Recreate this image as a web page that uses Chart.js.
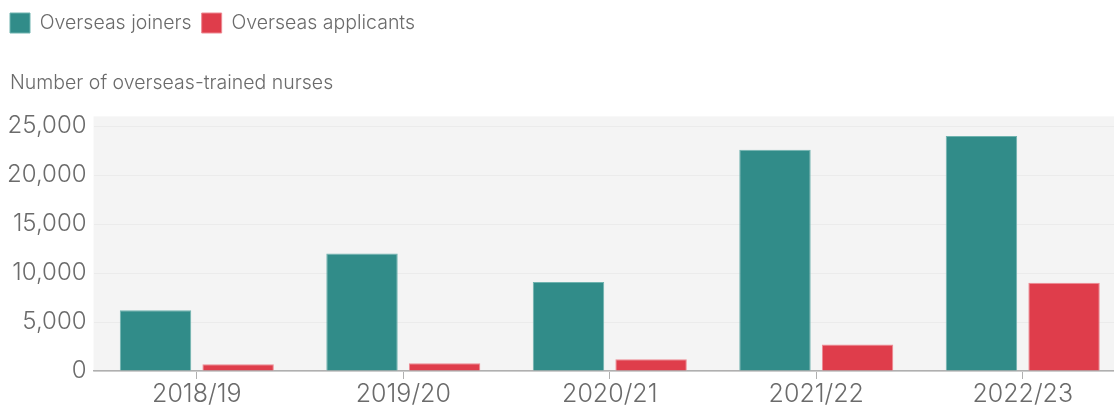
<!DOCTYPE html>
<html>
<head>
<meta charset="utf-8">
<script src="https://cdn.jsdelivr.net/npm/chart.js@4.4.1/dist/chart.umd.min.js"></script>
<style>
  html, body { margin: 0; padding: 0; background: #ffffff; overflow: hidden; width: 1114px; height: 409px; }
  #wrap { position: relative; width: 1126px; height: 409px; }
</style>
</head>
<body>
<div id="wrap"><canvas id="c"></canvas></div>
<script>
const categories = ['2018/19', '2019/20', '2020/21', '2021/22', '2022/23'];
const joiners = [6200, 12000, 9100, 22600, 24000];
const applicants = [700, 800, 1200, 2700, 9000];
const seriesNames = ['Overseas joiners', 'Overseas applicants'];
const yTitle = 'Number of overseas-trained nurses';
const yTickValues = [0, 5000, 10000, 15000, 20000, 25000];

const textColor = '#6b6b6b';
const fontFamily = 'Inter, Roboto, "Liberation Sans", sans-serif';

const plotBg = {
  id: 'plotBg',
  beforeDraw(chart) {
    const a = chart.chartArea, ctx = chart.ctx;
    ctx.save();
    ctx.fillStyle = '#f4f4f4';
    ctx.fillRect(a.left, a.top, a.right - a.left, a.bottom - a.top);
    ctx.restore();
  },
  afterLayout(chart) {
    if (chart.titleBlock) { chart.titleBlock.left += 10; }
  }
};

new Chart(document.getElementById('c'), {
  type: 'bar',
  data: {
    labels: categories,
    datasets: [
      { label: seriesNames[0], data: joiners, backgroundColor: '#318c89', borderColor: '#6fb3af', borderWidth: 1 },
      { label: seriesNames[1], data: applicants, backgroundColor: '#df3d4b', borderColor: '#ee8a93', borderWidth: 1 }
    ]
  },
  options: {
    responsive: true,
    maintainAspectRatio: false,
    animation: false,
    datasets: { bar: { categoryPercentage: 0.8, barPercentage: 0.865 } },
    layout: { padding: { left: 0, right: 0, top: 3, bottom: 0 } },
    plugins: {
      legend: {
        display: true, position: 'top', align: 'start', weight: 3000,
        labels: {
          boxWidth: 20, boxHeight: 20, padding: 10, color: textColor,
          font: { family: fontFamily, size: 19.5, weight: '300' }
        }
      },
      title: {
        display: true, text: yTitle, align: 'start', weight: 500,
        color: textColor, padding: { top: 28, bottom: 22 },
        font: { family: fontFamily, size: 19.5, weight: '300' }
      },
      tooltip: { enabled: false }
    },
    scales: {
      x: {
        grid: { display: true, offset: false, drawOnChartArea: false, drawTicks: true, tickLength: 8, color: '#b0b0b0' },
        border: { display: true, color: '#b0b0b0', width: 1.5 },
        ticks: { color: textColor, padding: 0, font: { family: fontFamily, size: 25, weight: '300' } }
      },
      y: {
        min: 0, max: 26000,
        afterBuildTicks(scale) { scale.ticks = yTickValues.map(v => ({ value: v })); },
        grid: { drawTicks: false, color: '#ebebeb' },
        border: { display: false },
        ticks: {
          color: textColor, padding: 7, autoSkip: false,
          font: { family: fontFamily, size: 24, weight: '300' },
          callback: v => v.toLocaleString('en-US')
        }
      }
    }
  },
  plugins: [plotBg]
});
</script>
</body>
</html>
